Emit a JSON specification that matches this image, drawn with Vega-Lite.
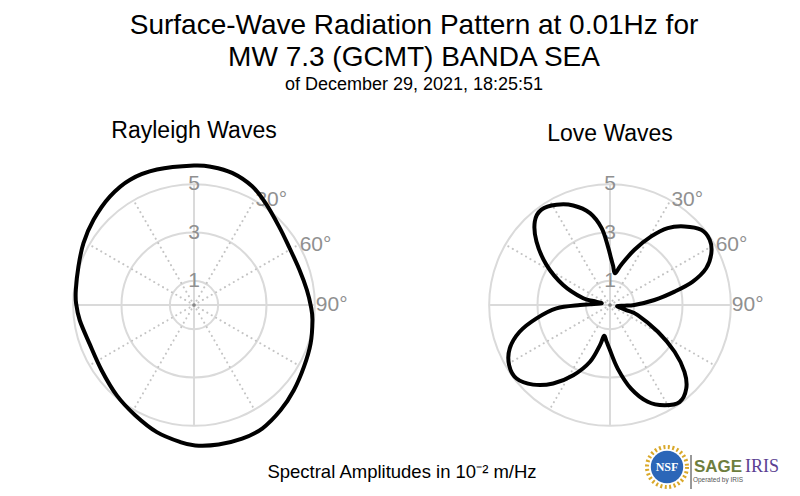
{
  "$schema": "https://vega.github.io/schema/vega-lite/v6.json",
  "background": "white",
  "padding": {"top": 12, "left": 49, "right": 0, "bottom": 0},
  "config": {
    "view": {"stroke": null},
    "font": "Liberation Sans",
    "title": {"font": "Liberation Sans", "fontWeight": "normal", "color": "#000000"}
  },
  "title": {
    "text": ["Surface-Wave Radiation Pattern at 0.01Hz for", "MW 7.3 (GCMT) BANDA SEA"],
    "subtitle": "of December 29, 2021, 18:25:51",
    "fontSize": 28,
    "lineHeight": 32,
    "subtitleFontSize": 18,
    "subtitleFont": "Liberation Sans",
    "subtitleColor": "#000000",
    "subtitlePadding": 4,
    "anchor": "middle",
    "offset": 26
  },
  "datasets": {
    "rayleigh": [
      {"az": 0, "amp": 5.77}, {"az": 7.4, "amp": 5.76}, {"az": 16.1, "amp": 5.69}, {"az": 26.1, "amp": 5.47},
      {"az": 35.1, "amp": 5.15}, {"az": 47.2, "amp": 4.79}, {"az": 58.4, "amp": 4.61}, {"az": 71.5, "amp": 4.6},
      {"az": 82.3, "amp": 4.71}, {"az": 90.8, "amp": 4.84}, {"az": 97.2, "amp": 4.94}, {"az": 108.2, "amp": 5.08},
      {"az": 119.4, "amp": 5.22}, {"az": 130.5, "amp": 5.43}, {"az": 140.6, "amp": 5.64}, {"az": 151.1, "amp": 5.84},
      {"az": 160.2, "amp": 5.88}, {"az": 170, "amp": 5.86}, {"az": 179.5, "amp": 5.81}, {"az": 185.7, "amp": 5.7},
      {"az": 196.3, "amp": 5.48}, {"az": 208.1, "amp": 5.17}, {"az": 220.5, "amp": 4.92}, {"az": 234.8, "amp": 4.68},
      {"az": 249.7, "amp": 4.61}, {"az": 262.4, "amp": 4.77}, {"az": 270.8, "amp": 4.88}, {"az": 277.3, "amp": 4.93},
      {"az": 288.4, "amp": 5.04}, {"az": 299.2, "amp": 5.24}, {"az": 310.3, "amp": 5.45}, {"az": 322.3, "amp": 5.68},
      {"az": 333, "amp": 5.82}, {"az": 344.7, "amp": 5.81}
    ],
    "love": [
      {"az": 1.2, "amp": 1.94}, {"az": 4.4, "amp": 1.64}, {"az": 9, "amp": 1.33}, {"az": 15.4, "amp": 1.72},
      {"az": 23.9, "amp": 2.5}, {"az": 31, "amp": 3.31}, {"az": 36.9, "amp": 3.98}, {"az": 43.5, "amp": 4.48},
      {"az": 50.5, "amp": 4.89}, {"az": 56.8, "amp": 4.93}, {"az": 62.9, "amp": 4.71}, {"az": 69.1, "amp": 4.26},
      {"az": 74.2, "amp": 3.56}, {"az": 78.3, "amp": 2.73}, {"az": 83.6, "amp": 1.85}, {"az": 90, "amp": 1.01},
      {"az": 92.7, "amp": 0.6}, {"az": 100.8, "amp": 0.3}, {"az": 107.4, "amp": 0.7}, {"az": 109.9, "amp": 1.22},
      {"az": 119.2, "amp": 2.27}, {"az": 125.9, "amp": 3.3}, {"az": 131.9, "amp": 4.14}, {"az": 137.6, "amp": 4.68},
      {"az": 144.4, "amp": 4.94}, {"az": 151.5, "amp": 4.72}, {"az": 158.7, "amp": 4.3}, {"az": 165.9, "amp": 3.57},
      {"az": 173.1, "amp": 2.65}, {"az": 180.9, "amp": 1.8}, {"az": 185.2, "amp": 1.53}, {"az": 191.1, "amp": 1.3},
      {"az": 194, "amp": 1.71}, {"az": 199.4, "amp": 2.49}, {"az": 207.6, "amp": 3.28}, {"az": 215.9, "amp": 4.01},
      {"az": 224, "amp": 4.58}, {"az": 231.8, "amp": 4.92}, {"az": 239.2, "amp": 4.86}, {"az": 246.6, "amp": 4.52},
      {"az": 253.5, "amp": 3.9}, {"az": 259.7, "amp": 3.09}, {"az": 266.4, "amp": 2.22}, {"az": 270, "amp": 1.24},
      {"az": 271.9, "amp": 0.83}, {"az": 281.3, "amp": 0.35}, {"az": 283.5, "amp": 0.71}, {"az": 284, "amp": 1.14},
      {"az": 293.2, "amp": 2.11}, {"az": 302.3, "amp": 3.11}, {"az": 310.8, "amp": 4.02}, {"az": 318, "amp": 4.65},
      {"az": 324.3, "amp": 4.86}, {"az": 331.9, "amp": 4.7}, {"az": 339.7, "amp": 4.39}, {"az": 347.7, "amp": 3.89},
      {"az": 353.8, "amp": 3.2}, {"az": 358, "amp": 2.42}
    ],
    "rings": [{"r": 1}, {"r": 3}, {"r": 5}],
    "spokes": [
      {"az": 0, "kind": "solid", "rin": 0, "rout": 5}, {"az": 30, "kind": "dot", "rin": 0, "rout": 5},
      {"az": 60, "kind": "dot", "rin": 0, "rout": 5}, {"az": 90, "kind": "solid", "rin": 0, "rout": 5},
      {"az": 120, "kind": "dot", "rin": 0, "rout": 5}, {"az": 150, "kind": "dot", "rin": 0, "rout": 5},
      {"az": 180, "kind": "solid", "rin": 0, "rout": 5}, {"az": 210, "kind": "dot", "rin": 0, "rout": 5},
      {"az": 240, "kind": "dot", "rin": 0, "rout": 5}, {"az": 270, "kind": "solid", "rin": 0, "rout": 5},
      {"az": 300, "kind": "dot", "rin": 0, "rout": 5}, {"az": 330, "kind": "dot", "rin": 0, "rout": 5}
    ],
    "rlabels": [{"az": 0, "r": 1, "label": "1"}, {"az": 0, "r": 3, "label": "3"}, {"az": 0, "r": 5, "label": "5"}],
    "alabels": [{"az": 30, "r": 5, "label": "30°"}, {"az": 60, "r": 5, "label": "60°"}, {"az": 90, "r": 5, "label": "90°"}],
    "origin": [{"r": 0}],
    "caption": [{"label": "Spectral Amplitudes in 10⁻² m/Hz"}],
    "logo": [{"part": "NSF"}, {"part": "sep"}, {"part": "SAGE"}, {"part": "IRIS"}]
  },
  "spacing": -15,
  "vconcat": [
    {
      "spacing": 117,
      "hconcat": [
        {
          "title": {"text": "Rayleigh Waves", "fontSize": 23, "offset": 14},
          "width": 290,
          "height": 290,
          "layer": [
            {
              "data": {"name": "rings"},
              "transform": [{"calculate": "0", "as": "c"}],
              "mark": {"type": "point", "shape": "circle", "filled": false, "stroke": "#dadada", "strokeWidth": 2, "opacity": 1},
              "encoding": {
                "x": {"field": "c", "type": "quantitative", "scale": {"domain": [-6, 6], "nice": false, "zero": false}, "axis": null},
                "y": {"field": "c", "type": "quantitative", "scale": {"domain": [-6, 6], "nice": false, "zero": false}, "axis": null},
                "size": {"field": "r", "type": "quantitative", "scale": {"type": "pow", "exponent": 2, "domain": [0, 6], "range": [0, 84100]}, "legend": null}
              }
            },
            {
              "data": {"name": "spokes"},
              "transform": [
                {"filter": "datum.kind == 'solid'"},
                {"calculate": "datum.rin * sin(datum.az * PI / 180)", "as": "xs"},
                {"calculate": "datum.rin * cos(datum.az * PI / 180)", "as": "ys"},
                {"calculate": "datum.rout * sin(datum.az * PI / 180)", "as": "xe"},
                {"calculate": "datum.rout * cos(datum.az * PI / 180)", "as": "ye"}
              ],
              "mark": {"type": "rule", "stroke": "#dadada", "strokeWidth": 2},
              "encoding": {
                "x": {"field": "xs", "type": "quantitative", "scale": {"domain": [-6, 6], "nice": false, "zero": false}, "axis": null},
                "y": {"field": "ys", "type": "quantitative", "scale": {"domain": [-6, 6], "nice": false, "zero": false}, "axis": null},
                "x2": {"field": "xe"},
                "y2": {"field": "ye"}
              }
            },
            {
              "data": {"name": "spokes"},
              "transform": [
                {"filter": "datum.kind == 'dot'"},
                {"calculate": "datum.rin * sin(datum.az * PI / 180)", "as": "xs"},
                {"calculate": "datum.rin * cos(datum.az * PI / 180)", "as": "ys"},
                {"calculate": "datum.rout * sin(datum.az * PI / 180)", "as": "xe"},
                {"calculate": "datum.rout * cos(datum.az * PI / 180)", "as": "ye"}
              ],
              "mark": {"type": "rule", "stroke": "#c4c4c4", "strokeWidth": 2, "strokeDash": [0.1, 5], "strokeCap": "round"},
              "encoding": {
                "x": {"field": "xs", "type": "quantitative", "scale": {"domain": [-6, 6], "nice": false, "zero": false}, "axis": null},
                "y": {"field": "ys", "type": "quantitative", "scale": {"domain": [-6, 6], "nice": false, "zero": false}, "axis": null},
                "x2": {"field": "xe"},
                "y2": {"field": "ye"}
              }
            },
            {
              "data": {"name": "origin"},
              "mark": {"type": "point", "filled": true, "color": "#888888", "size": 14, "opacity": 1},
              "encoding": {
                "x": {"field": "r", "type": "quantitative", "scale": {"domain": [-6, 6], "nice": false, "zero": false}, "axis": null},
                "y": {"field": "r", "type": "quantitative", "scale": {"domain": [-6, 6], "nice": false, "zero": false}, "axis": null}
              }
            },
            {
              "data": {"name": "rlabels"},
              "transform": [
                {"calculate": "datum.r * sin(datum.az * PI / 180)", "as": "x"},
                {"calculate": "datum.r * cos(datum.az * PI / 180)", "as": "y"}
              ],
              "mark": {"type": "text", "fontSize": 21, "color": "#909090", "align": "center", "baseline": "middle"},
              "encoding": {
                "x": {"field": "x", "type": "quantitative", "scale": {"domain": [-6, 6], "nice": false, "zero": false}, "axis": null},
                "y": {"field": "y", "type": "quantitative", "scale": {"domain": [-6, 6], "nice": false, "zero": false}, "axis": null},
                "text": {"field": "label", "type": "nominal"}
              }
            },
            {
              "data": {"name": "alabels"},
              "transform": [
                {"calculate": "datum.r * sin(datum.az * PI / 180)", "as": "x"},
                {"calculate": "datum.r * cos(datum.az * PI / 180)", "as": "y"}
              ],
              "mark": {"type": "text", "fontSize": 21, "color": "#909090", "align": "left", "baseline": "middle", "dx": 1},
              "encoding": {
                "x": {"field": "x", "type": "quantitative", "scale": {"domain": [-6, 6], "nice": false, "zero": false}, "axis": null},
                "y": {"field": "y", "type": "quantitative", "scale": {"domain": [-6, 6], "nice": false, "zero": false}, "axis": null},
                "text": {"field": "label", "type": "nominal"}
              }
            },
            {
              "data": {"name": "rayleigh"},
              "transform": [
                {"calculate": "datum.amp * sin(datum.az * PI / 180)", "as": "x"},
                {"calculate": "datum.amp * cos(datum.az * PI / 180)", "as": "y"}
              ],
              "mark": {"type": "line", "interpolate": "cardinal-closed", "stroke": "#000000", "strokeWidth": 4},
              "encoding": {
                "x": {"field": "x", "type": "quantitative", "scale": {"domain": [-6, 6], "nice": false, "zero": false}, "axis": null},
                "y": {"field": "y", "type": "quantitative", "scale": {"domain": [-6, 6], "nice": false, "zero": false}, "axis": null},
                "order": {"field": "az", "type": "quantitative"}
              }
            }
          ]
        },
        {
          "title": {"text": "Love Waves", "fontSize": 23, "offset": 14},
          "width": 290,
          "height": 290,
          "layer": [
            {
              "data": {"name": "rings"},
              "transform": [{"calculate": "0", "as": "c"}],
              "mark": {"type": "point", "shape": "circle", "filled": false, "stroke": "#dadada", "strokeWidth": 2, "opacity": 1},
              "encoding": {
                "x": {"field": "c", "type": "quantitative", "scale": {"domain": [-6, 6], "nice": false, "zero": false}, "axis": null},
                "y": {"field": "c", "type": "quantitative", "scale": {"domain": [-6, 6], "nice": false, "zero": false}, "axis": null},
                "size": {"field": "r", "type": "quantitative", "scale": {"type": "pow", "exponent": 2, "domain": [0, 6], "range": [0, 84100]}, "legend": null}
              }
            },
            {
              "data": {"name": "spokes"},
              "transform": [
                {"filter": "datum.kind == 'solid'"},
                {"calculate": "datum.rin * sin(datum.az * PI / 180)", "as": "xs"},
                {"calculate": "datum.rin * cos(datum.az * PI / 180)", "as": "ys"},
                {"calculate": "datum.rout * sin(datum.az * PI / 180)", "as": "xe"},
                {"calculate": "datum.rout * cos(datum.az * PI / 180)", "as": "ye"}
              ],
              "mark": {"type": "rule", "stroke": "#dadada", "strokeWidth": 2},
              "encoding": {
                "x": {"field": "xs", "type": "quantitative", "scale": {"domain": [-6, 6], "nice": false, "zero": false}, "axis": null},
                "y": {"field": "ys", "type": "quantitative", "scale": {"domain": [-6, 6], "nice": false, "zero": false}, "axis": null},
                "x2": {"field": "xe"},
                "y2": {"field": "ye"}
              }
            },
            {
              "data": {"name": "spokes"},
              "transform": [
                {"filter": "datum.kind == 'dot'"},
                {"calculate": "datum.rin * sin(datum.az * PI / 180)", "as": "xs"},
                {"calculate": "datum.rin * cos(datum.az * PI / 180)", "as": "ys"},
                {"calculate": "datum.rout * sin(datum.az * PI / 180)", "as": "xe"},
                {"calculate": "datum.rout * cos(datum.az * PI / 180)", "as": "ye"}
              ],
              "mark": {"type": "rule", "stroke": "#c4c4c4", "strokeWidth": 2, "strokeDash": [0.1, 5], "strokeCap": "round"},
              "encoding": {
                "x": {"field": "xs", "type": "quantitative", "scale": {"domain": [-6, 6], "nice": false, "zero": false}, "axis": null},
                "y": {"field": "ys", "type": "quantitative", "scale": {"domain": [-6, 6], "nice": false, "zero": false}, "axis": null},
                "x2": {"field": "xe"},
                "y2": {"field": "ye"}
              }
            },
            {
              "data": {"name": "origin"},
              "mark": {"type": "point", "filled": true, "color": "#888888", "size": 14, "opacity": 1},
              "encoding": {
                "x": {"field": "r", "type": "quantitative", "scale": {"domain": [-6, 6], "nice": false, "zero": false}, "axis": null},
                "y": {"field": "r", "type": "quantitative", "scale": {"domain": [-6, 6], "nice": false, "zero": false}, "axis": null}
              }
            },
            {
              "data": {"name": "rlabels"},
              "transform": [
                {"calculate": "datum.r * sin(datum.az * PI / 180)", "as": "x"},
                {"calculate": "datum.r * cos(datum.az * PI / 180)", "as": "y"}
              ],
              "mark": {"type": "text", "fontSize": 21, "color": "#909090", "align": "center", "baseline": "middle"},
              "encoding": {
                "x": {"field": "x", "type": "quantitative", "scale": {"domain": [-6, 6], "nice": false, "zero": false}, "axis": null},
                "y": {"field": "y", "type": "quantitative", "scale": {"domain": [-6, 6], "nice": false, "zero": false}, "axis": null},
                "text": {"field": "label", "type": "nominal"}
              }
            },
            {
              "data": {"name": "alabels"},
              "transform": [
                {"calculate": "datum.r * sin(datum.az * PI / 180)", "as": "x"},
                {"calculate": "datum.r * cos(datum.az * PI / 180)", "as": "y"}
              ],
              "mark": {"type": "text", "fontSize": 21, "color": "#909090", "align": "left", "baseline": "middle", "dx": 1},
              "encoding": {
                "x": {"field": "x", "type": "quantitative", "scale": {"domain": [-6, 6], "nice": false, "zero": false}, "axis": null},
                "y": {"field": "y", "type": "quantitative", "scale": {"domain": [-6, 6], "nice": false, "zero": false}, "axis": null},
                "text": {"field": "label", "type": "nominal"}
              }
            },
            {
              "data": {"name": "love"},
              "transform": [
                {"calculate": "datum.amp * sin(datum.az * PI / 180)", "as": "x"},
                {"calculate": "datum.amp * cos(datum.az * PI / 180)", "as": "y"}
              ],
              "mark": {"type": "line", "interpolate": "cardinal-closed", "stroke": "#000000", "strokeWidth": 4},
              "encoding": {
                "x": {"field": "x", "type": "quantitative", "scale": {"domain": [-6, 6], "nice": false, "zero": false}, "axis": null},
                "y": {"field": "y", "type": "quantitative", "scale": {"domain": [-6, 6], "nice": false, "zero": false}, "axis": null},
                "order": {"field": "az", "type": "quantitative"}
              }
            }
          ]
        }
      ]
    },
    {
      "width": 706,
      "height": 34,
      "layer": [
        {
          "data": {"name": "caption"},
          "mark": {"type": "text", "fontSize": 18.5, "color": "#000000", "align": "center", "baseline": "middle"},
          "encoding": {"text": {"field": "label", "type": "nominal"}}
        },
        {
          "data": {"name": "logo"},
          "transform": [{"filter": "datum.part == 'sep'"}],
          "mark": {"type": "rule", "stroke": "#333333", "strokeWidth": 1},
          "encoding": {"x": {"field": "part", "type": "nominal", "scale": {"type": "point", "padding": 0, "domain": ["NSF", "sep", "SAGE", "IRIS"], "range": [618, 690]}, "axis": null}}
        },
        {
          "data": {"name": "logo"},
          "transform": [{"filter": "datum.part == 'NSF'"}],
          "mark": {"type": "point", "shape": "circle", "filled": false, "stroke": "#d9a82a", "strokeWidth": 4, "strokeDash": [2, 2.5], "size": 1600, "opacity": 1, "yOffset": -5},
          "encoding": {"x": {"field": "part", "type": "nominal", "scale": {"type": "point", "padding": 0, "domain": ["NSF", "sep", "SAGE", "IRIS"], "range": [618, 690]}, "axis": null}}
        },
        {
          "data": {"name": "logo"},
          "transform": [{"filter": "datum.part == 'NSF'"}],
          "mark": {"type": "point", "shape": "circle", "filled": true, "color": "#2b66b8", "size": 1050, "opacity": 1, "yOffset": -5},
          "encoding": {"x": {"field": "part", "type": "nominal", "scale": {"type": "point", "padding": 0, "domain": ["NSF", "sep", "SAGE", "IRIS"], "range": [618, 690]}, "axis": null}}
        },
        {
          "data": {"name": "logo"},
          "transform": [{"filter": "datum.part == 'NSF'"}],
          "mark": {"type": "text", "font": "Liberation Serif", "fontSize": 12, "fontWeight": "bold", "color": "#ffffff", "align": "center", "baseline": "middle", "dy": -5},
          "encoding": {"x": {"field": "part", "type": "nominal", "scale": {"type": "point", "padding": 0, "domain": ["NSF", "sep", "SAGE", "IRIS"], "range": [618, 690]}, "axis": null}, "text": {"field": "part", "type": "nominal"}}
        },
        {
          "data": {"name": "logo"},
          "transform": [{"filter": "datum.part == 'SAGE'"}],
          "mark": {"type": "text", "font": "Liberation Sans", "fontSize": 17, "fontWeight": "bold", "color": "#6e7e3e", "align": "center", "baseline": "middle", "dx": 3, "dy": -5},
          "encoding": {"x": {"field": "part", "type": "nominal", "scale": {"type": "point", "padding": 0, "domain": ["NSF", "sep", "SAGE", "IRIS"], "range": [618, 690]}, "axis": null}, "text": {"field": "part", "type": "nominal"}}
        },
        {
          "data": {"name": "logo"},
          "transform": [{"filter": "datum.part == 'SAGE'"}],
          "mark": {"type": "text", "font": "Liberation Sans", "fontSize": 6.5, "color": "#555555", "align": "center", "baseline": "middle", "dx": 3, "dy": 8, "text": "Operated by IRIS"},
          "encoding": {"x": {"field": "part", "type": "nominal", "scale": {"type": "point", "padding": 0, "domain": ["NSF", "sep", "SAGE", "IRIS"], "range": [618, 690]}, "axis": null}}
        },
        {
          "data": {"name": "logo"},
          "transform": [{"filter": "datum.part == 'IRIS'"}],
          "mark": {"type": "text", "font": "Liberation Serif", "fontSize": 18, "color": "#5b3f92", "align": "center", "baseline": "middle", "dx": 23, "dy": -5},
          "encoding": {"x": {"field": "part", "type": "nominal", "scale": {"type": "point", "padding": 0, "domain": ["NSF", "sep", "SAGE", "IRIS"], "range": [618, 690]}, "axis": null}, "text": {"field": "part", "type": "nominal"}}
        }
      ]
    }
  ]
}
